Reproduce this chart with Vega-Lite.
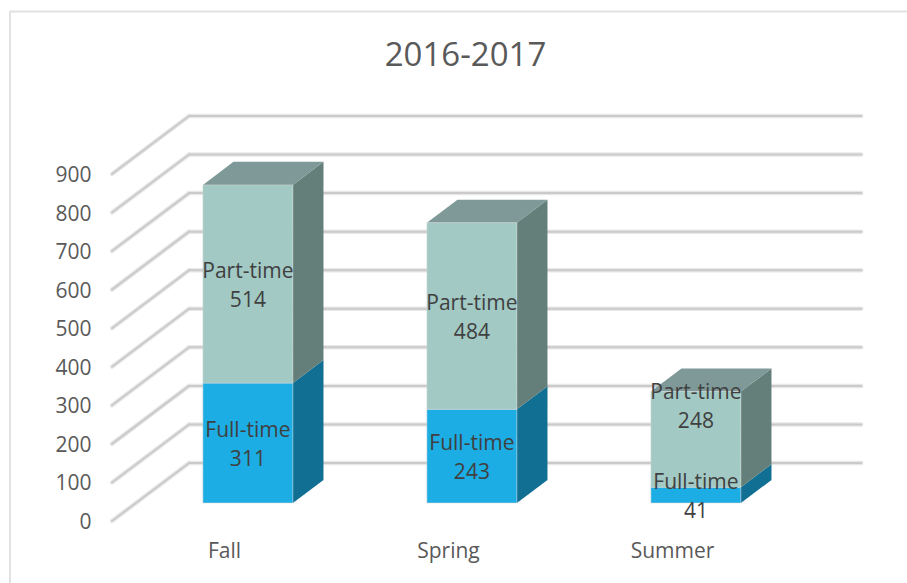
{
"$schema":"https://vega.github.io/schema/vega-lite/v6.json",
"width":897,"height":572,
"autosize":{"type":"none"},
"padding":{"left":10,"top":11,"right":0,"bottom":0},
"background":"white",
"config":{"view":{"stroke":null},"font":"Open Sans"},
"title":{"text":"2016-2017","font":"Open Sans","fontSize":33,"fontWeight":"normal","color":"#595959","anchor":"middle","frame":"group","dx":7,"offset":-63},
"datasets":{
"enrollment":[
{"term":"Fall","pos":1,"status":"Full-time","value":311},
{"term":"Fall","pos":1,"status":"Part-time","value":514},
{"term":"Spring","pos":2,"status":"Full-time","value":243},
{"term":"Spring","pos":2,"status":"Part-time","value":484},
{"term":"Summer","pos":3,"status":"Full-time","value":41},
{"term":"Summer","pos":3,"status":"Part-time","value":248}
],
"ticks":[{"v":0},{"v":100},{"v":200},{"v":300},{"v":400},{"v":500},{"v":600},{"v":700},{"v":800},{"v":900}]
},
"layer":[
{"data":{"values":[{"a":1}]},"mark":{"type":"rule","color":"#e2e2e2","strokeWidth":2},"encoding":{"x":{"datum":0.0446,"type":"quantitative","scale":{"domain":[0.04464,4.04911],"nice":false,"zero":false},"axis":{"values":[1,2,3],"labelExpr":"datum.value==1?'Fall':datum.value==2?'Spring':'Summer'","title":null,"grid":false,"domain":false,"ticks":false,"orient":"bottom","offset":-32,"labelPadding":0,"labelBaseline":"middle","labelFontSize":21,"labelColor":"#595959","labelFont":"Open Sans"}},"y":{"type":"quantitative","datum":-160.8,"scale":{"domain":[-160.8,1322.6],"nice":false,"zero":false},"axis":{"values":[0,100,200,300,400,500,600,700,800,900],"title":null,"grid":false,"domain":false,"ticks":false,"orient":"left","offset":-81,"labelPadding":0,"labelOffset":1.5,"labelFontSize":21,"labelColor":"#595959","labelFont":"Open Sans"}},"y2":{"datum":1322.6}}},
{"data":{"values":[{"a":1}]},"mark":{"type":"rule","color":"#e2e2e2","strokeWidth":2},"encoding":{"y":{"datum":1321,"type":"quantitative"},"x":{"datum":0.04464,"type":"quantitative"},"x2":{"datum":4.04911}}},
{"data":{"name":"ticks"},"transform":[{"calculate":"datum.v+150.4","as":"vb"}],"layer":[
{"mark":{"type":"rule","color":"#e8e8e8","strokeWidth":4.5,"strokeCap":"round"},"encoding":{"x":{"datum":0.5,"type":"quantitative"},"x2":{"datum":0.844},"y":{"field":"v","type":"quantitative"},"y2":{"field":"vb"}}},
{"mark":{"type":"rule","color":"#e8e8e8","strokeWidth":4.5,"strokeCap":"round"},"encoding":{"x":{"datum":0.844,"type":"quantitative"},"x2":{"datum":3.845},"y":{"field":"vb","type":"quantitative"}}},
{"mark":{"type":"rule","color":"#cacaca","strokeWidth":2,"strokeCap":"round"},"encoding":{"x":{"datum":0.5,"type":"quantitative"},"x2":{"datum":0.844},"y":{"field":"v","type":"quantitative"},"y2":{"field":"vb"}}},
{"mark":{"type":"rule","color":"#cacaca","strokeWidth":2,"strokeCap":"round"},"encoding":{"x":{"datum":0.844,"type":"quantitative"},"x2":{"datum":3.845},"y":{"field":"vb","type":"quantitative"}}}
]},
{"data":{"name":"enrollment"},
"transform":[
{"stack":"value","groupby":["term"],"sort":[{"field":"status"}],"as":["v0","v1"]},
{"calculate":"[0.31,0.707]","as":"d"},
{"flatten":["d"]},
{"calculate":"datum.pos+0.2009+datum.d*0.344","as":"sx"},
{"calculate":"datum.v0+datum.d*150.4","as":"sy0"},
{"calculate":"datum.v1+datum.d*150.4","as":"sy1"}
],
"mark":{"type":"area","orient":"vertical"},
"encoding":{
"x":{"field":"sx","type":"quantitative"},
"y":{"field":"sy0","type":"quantitative","stack":null},
"y2":{"field":"sy1"},
"detail":{"field":"term"},
"color":{"field":"status","type":"nominal","legend":null,"scale":{"domain":["Full-time","Part-time"],"range":["#116F94","#647F79"]}}
}},
{"data":{"name":"enrollment"},
"transform":[
{"stack":"value","groupby":["term"],"sort":[{"field":"status"}],"as":["v0","v1"]},
{"filter":"datum.status=='Part-time'"},
{"calculate":"[0.31,0.707]","as":"d"},
{"flatten":["d"]},
{"calculate":"datum.pos-0.2009+datum.d*0.344","as":"tx0"},
{"calculate":"datum.pos+0.2009+datum.d*0.344","as":"tx1"},
{"calculate":"datum.v1+datum.d*150.4","as":"ty"}
],
"mark":{"type":"area","orient":"horizontal","color":"#7E9997"},
"encoding":{
"y":{"field":"ty","type":"quantitative","stack":null},
"x":{"field":"tx0","type":"quantitative"},
"x2":{"field":"tx1"},
"detail":{"field":"term"}
}},
{"data":{"name":"enrollment"},
"transform":[
{"stack":"value","groupby":["term"],"sort":[{"field":"status"}],"as":["v0","v1"]},
{"calculate":"datum.pos-0.2009+0.31*0.344","as":"fx0"},
{"calculate":"datum.pos+0.2009+0.31*0.344","as":"fx1"},
{"calculate":"datum.v0+0.31*150.4","as":"fy0"},
{"calculate":"datum.v1+0.31*150.4","as":"fy1"},
{"calculate":"datum.pos+0.31*0.344","as":"lx"},
{"calculate":"(datum.v0+datum.v1)/2+0.31*150.4+(datum.term=='Summer'&&datum.status=='Part-time'?88:0)","as":"ly"},
{"calculate":"datum.status+'\\n'+datum.value","as":"lab"}
],
"layer":[
{"mark":{"type":"rect","stroke":"#dcdcdc","strokeWidth":1,"strokeOpacity":0.5},
"encoding":{
"x":{"field":"fx0","type":"quantitative"},"x2":{"field":"fx1"},
"y":{"field":"fy0","type":"quantitative"},"y2":{"field":"fy1"},
"fill":{"field":"status","type":"nominal","legend":null,"scale":{"domain":["Full-time","Part-time"],"range":["#1CADE4","#A2C9C4"]}}
}},
{"mark":{"type":"text","font":"Open Sans","fontSize":21,"color":"#404040","lineBreak":"\n","lineHeight":29,"align":"center","baseline":"middle","dy":-12},
"encoding":{
"x":{"field":"lx","type":"quantitative"},
"y":{"field":"ly","type":"quantitative"},
"text":{"field":"lab"}
}}
]}
]
}
